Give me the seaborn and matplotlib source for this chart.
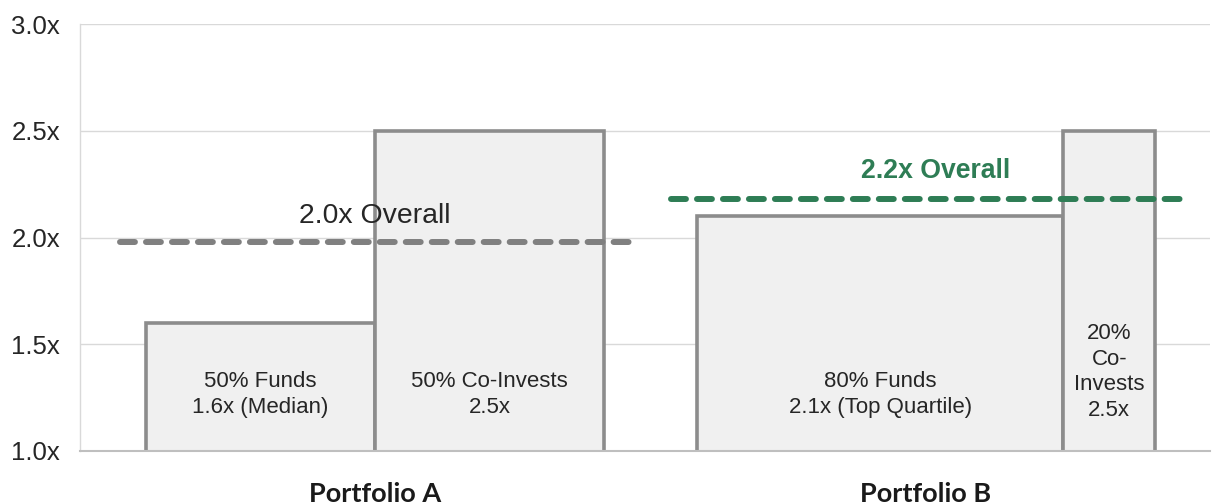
import numpy as np
import matplotlib
matplotlib.use("Agg")
import matplotlib.pyplot as plt
import seaborn as sns

# ---- data ----
portfolios = ["Portfolio A", "Portfolio B"]
segment_portfolio = [0, 0, 1, 1]
segment_shares = [0.5, 0.5, 0.8, 0.2]
segment_multiples = [1.6, 2.5, 2.1, 2.5]
segment_labels = ["50% Funds\n1.6x (Median)", "50% Co-Invests\n2.5x",
                  "80% Funds\n2.1x (Top Quartile)", "20%\nCo-\nInvests\n2.5x"]
overall_values = [1.98, 2.18]
overall_labels = ["2.0x Overall", "2.2x Overall"]
y_ticks = [1.0, 1.5, 2.0, 2.5, 3.0]
y_tick_labels = ["1.0x", "1.5x", "2.0x", "2.5x", "3.0x"]

# ---- style ----
sns.set_theme(style="whitegrid")
plt.rcParams["font.family"] = ["Liberation Sans", "DejaVu Sans"]

GAP = 0.203
BAR_FILL = "#f0f0f0"
BAR_EDGE = "#8c8c8c"
GRAY = "#808080"
GREEN = "#2e7d55"
TEXT = "#262626"

fig = plt.figure(figsize=(12.12, 5.04), dpi=100)
ax = fig.add_axes([80 / 1212, 53 / 504, 1130 / 1212, 427 / 504])

# bin edges derived from shares (each portfolio has width 1, separated by a gap)
starts = [p * (1 + GAP) for p in range(len(portfolios))]
edges = []
centers = []
for p, s0 in enumerate(starts):
    pos = s0
    edges.append(pos)
    shares = [sh for sh, sp in zip(segment_shares, segment_portfolio) if sp == p]
    for sh in shares:
        centers.append(pos + sh / 2)
        pos += sh
        edges.append(pos)
edges = sorted(set(np.round(edges, 6)))

sns.histplot(x=centers, weights=segment_multiples, bins=edges, stat="count",
             color=BAR_FILL, edgecolor=BAR_EDGE, linewidth=2.6, alpha=1,
             ax=ax, zorder=2)

# segment labels
for c, lab in zip(centers, segment_labels):
    ny = lab.count("\n") + 1
    ax.text(c, 1.265 if ny == 2 else 1.37, lab, ha="center", va="center",
            fontsize=16, color=TEXT, linespacing=1.28, zorder=4)

# overall dashed lines
for p, s0 in enumerate(starts):
    col = GRAY if p == 0 else GREEN
    ext = 0.057
    sns.lineplot(x=[s0 - ext, s0 + 1 + ext], y=[overall_values[p]] * 2, ax=ax,
                 color=col, linewidth=4.3, zorder=5)
    ln = ax.lines[-1]
    ln.set_dashes([2.5, 1.85])
    ln.set_dash_capstyle("round")
    if p == 0:
        ax.text(s0 + 0.5, 2.10, overall_labels[p], ha="center", va="center",
                fontsize=20.4, color=TEXT, zorder=6)
    else:
        ax.text(s0 + 0.52, 2.31, overall_labels[p], ha="center", va="center",
                fontsize=19.2, color=GREEN, fontweight="bold", zorder=6)

# axes
ax.set_xlim(-0.144, 2.323)
ax.set_ylim(1.0, 3.0)
ax.set_yticks(y_ticks)
ax.set_yticklabels(y_tick_labels, fontsize=18.5, color=TEXT)
ax.set_xticks([s + 0.5 for s in starts])
ax.set_xticklabels(portfolios, fontsize=19.5, fontweight="bold", color="#1a1a1a",
                   family=["Lato", "DejaVu Sans"])
ax.tick_params(axis="x", length=0, pad=22)
ax.tick_params(axis="y", length=0, pad=14.4)
ax.grid(axis="x", visible=False)
ax.grid(axis="y", color="#d9d9d9", linewidth=1.0, zorder=0)
ax.set_axisbelow(True)
for side in ["top", "right"]:
    ax.spines[side].set_visible(False)
ax.spines["left"].set_color("#d9d9d9")
ax.spines["left"].set_linewidth(1.0)
ax.spines["bottom"].set_color("#bfbfbf")
ax.spines["bottom"].set_linewidth(1.5)
ax.set_xlabel("")
ax.set_ylabel("")
if ax.get_legend():
    ax.get_legend().remove()

fig.savefig("out.png", dpi=100)
